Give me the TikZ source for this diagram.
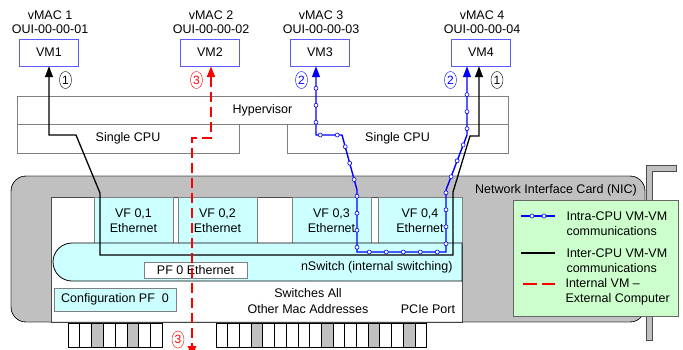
\documentclass[tikz,border=0pt]{standalone}
\usepackage{fontspec}
\setmainfont{Liberation Sans}
\usetikzlibrary{arrows.meta}
\usetikzlibrary{shapes.geometric}
\usetikzlibrary{decorations.markings}

\definecolor{swcyan}{HTML}{CCFFFF}
\definecolor{keygreen}{HTML}{CCFFCC}
\definecolor{cardgray}{HTML}{C0C0C0}
\definecolor{edgegray}{HTML}{808080}
\definecolor{vmblue}{HTML}{5A5AFF}

\tikzset{
    every node/.style={font=\fontsize{12.5}{15}\selectfont},
    vmbox/.style={draw=vmblue, minimum width=59pt, minimum height=27pt, inner sep=0pt},
    hostbox/.style={draw=edgegray, inner sep=0pt},
    vfbox/.style={draw=edgegray, fill=swcyan, minimum height=47pt, inner sep=0pt, align=center},
    numtag/.style={draw, ellipse, inner sep=0pt, minimum width=12pt, minimum height=17pt, font=\fontsize{12}{12}\selectfont},
    finger/.style={draw, fill=white, line width=0.8pt},
    knob/.style={draw=blue, fill=white, line width=0.6pt},
    intra/.style={blue, line width=1.4pt},
    intradots/.style={postaction={decorate}, decoration={markings,
        mark=between positions 22pt and -14pt step 17pt with {\draw[knob] (0,0) circle (2pt);}}},
    inter/.style={black, line width=1.3pt},
    extern/.style={red, line width=2.4pt, dash pattern=on 10pt off 5pt},
}

\begin{document}
\begin{tikzpicture}[x=1pt, y=-1pt, >={Triangle[length=11pt, width=8pt]}]
    \path[use as bounding box, fill=white] (0,0) rectangle (683,349);
    % virtual machines
    \foreach[count=\i] \x in {49,210,320,481}{
        \node[vmbox] (vm\i) at (\x,52.5) {VM\i};
        \node[align=center, font=\fontsize{12.5}{14}\selectfont] (mac\i) at (\x+1,22) {vMAC \i\\OUI-00-00-0\i};
    }
    % hypervisor and cpus
    \node[hostbox, minimum width=491pt, minimum height=28pt] (hyper) at (262.5,110) {Hypervisor};
    \node[hostbox, minimum width=222pt, minimum height=29pt] (cpu1) at (128,138.5) {Single CPU};
    \node[hostbox, minimum width=221pt, minimum height=29pt] (cpu2) at (397.5,138.5) {Single CPU};
    % card and bracket
    \draw[fill=cardgray, draw=black!70] (646,340) -- (646,165) -- (676,165) -- (676,171) -- (652,171) -- (652,340) -- cycle;
    \draw[fill=cardgray, rounded corners=15pt] (11,176) rectangle (645,322);
    \draw[draw=black!70, fill=white] (51,197) rectangle (462,322);
    \draw[rounded corners=15pt] (11,176) rectangle (645,322);
    \foreach[count=\i] \x/\w in {133.5/79, 217.5/79, 331.5/79, 420/84}{
        \node[vfbox, minimum width=\w*1pt] (vf\i) at (\x,220.5) {VF 0,\i\\Ethernet};
    }
    \draw[fill=swcyan, line width=0.8pt] (72,243) -- (462,243) -- (462,281) -- (72,281)
        arc[start angle=90, end angle=270, radius=19] -- cycle;
    \node[draw=edgegray, fill=white, minimum width=103pt, minimum height=16pt, inner sep=0pt] (pf0) at (195.5,270) {PF 0 Ethernet};
    \node[draw=edgegray, fill=swcyan, minimum width=122pt, minimum height=23pt, inner sep=0pt] (cfg) at (115,299.5) {Configuration PF~ 0};
    \node[anchor=east] (nsw) at (456,267) {nSwitch (internal switching)};
    \node[align=center, font=\fontsize{12.5}{16}\selectfont] (sw) at (308,301) {Switches All\\Other Mac Addresses};
    \node (pcie) at (428,309) {PCIe Port};
    \node (nic) at (556,190) {Network Interface Card (NIC)};
    % connector fingers
    \foreach \i in {0,...,7}
        \draw[finger] (68+11.8*\i,323) rectangle ++(11.8,24);
    \foreach \i in {2,5}
        \draw[finger, fill=cardgray] (68+11.8*\i,323) rectangle ++(11.8,24);
    \foreach \i in {0,...,17}
        \draw[finger] (216+11.7*\i,323) rectangle ++(11.7,24);
    \foreach \i in {3,9,13,16}
        \draw[finger, fill=cardgray] (216+11.7*\i,323) rectangle ++(11.7,24);
    % legend
    \node[draw=black!60, fill=keygreen, minimum width=165pt, minimum height=116pt] (key) at (595.5,258) {};
    \node[anchor=west, align=left] (key1) at (563,223.5) {Intra-CPU VM-VM\\communications};
    \node[anchor=west, align=left] (key2) at (563,261) {Inter-CPU VM-VM\\communications};
    \node[anchor=west, align=left] (key3) at (562,292) {Internal VM --\\External Computer};
    \draw[intra] (521,216) -- (555,216);
    \foreach \x in {532,544} \draw[knob] (\x,216) circle (2pt);
    \draw[inter] (521,253) -- (555,253);
    \draw[extern, dash pattern=on 14pt off 5pt] (523,284) -- (555,284);
    % traffic paths
    \coordinate (ext) at (192,357);
    \draw[inter, <->] (vm1.south) -- (49,135) -- (76,135) -- (100,193) -- (100,255)
        -- (453,255) -- (453,192) -- (470,136) -- (479,136) -- ([xshift=-2pt]vm4.south);
    \draw[intra, intradots, <->] ([xshift=-4pt]vm3.south) -- (316,135) -- (342,135) -- (357,190) -- (357,252)
        -- (446,252) -- (446,190) -- (467,135) -- ([xshift=-14pt]vm4.south);
    \draw[extern, <->] ([xshift=1pt]vm2.south) -- (211,138) -- (192,138) -- (ext);
    \node[numtag] (n1a) at (65.5,80) {1};
    \node[numtag, red] (n3a) at (196.5,80) {3};
    \node[numtag, blue] (n2a) at (301.5,80) {2};
    \node[numtag, blue] (n2b) at (450.5,80) {2};
    \node[numtag] (n1b) at (497,80) {1};
    \node[numtag, red] (n3b) at (178,339.5) {3};
\end{tikzpicture}
\end{document}
